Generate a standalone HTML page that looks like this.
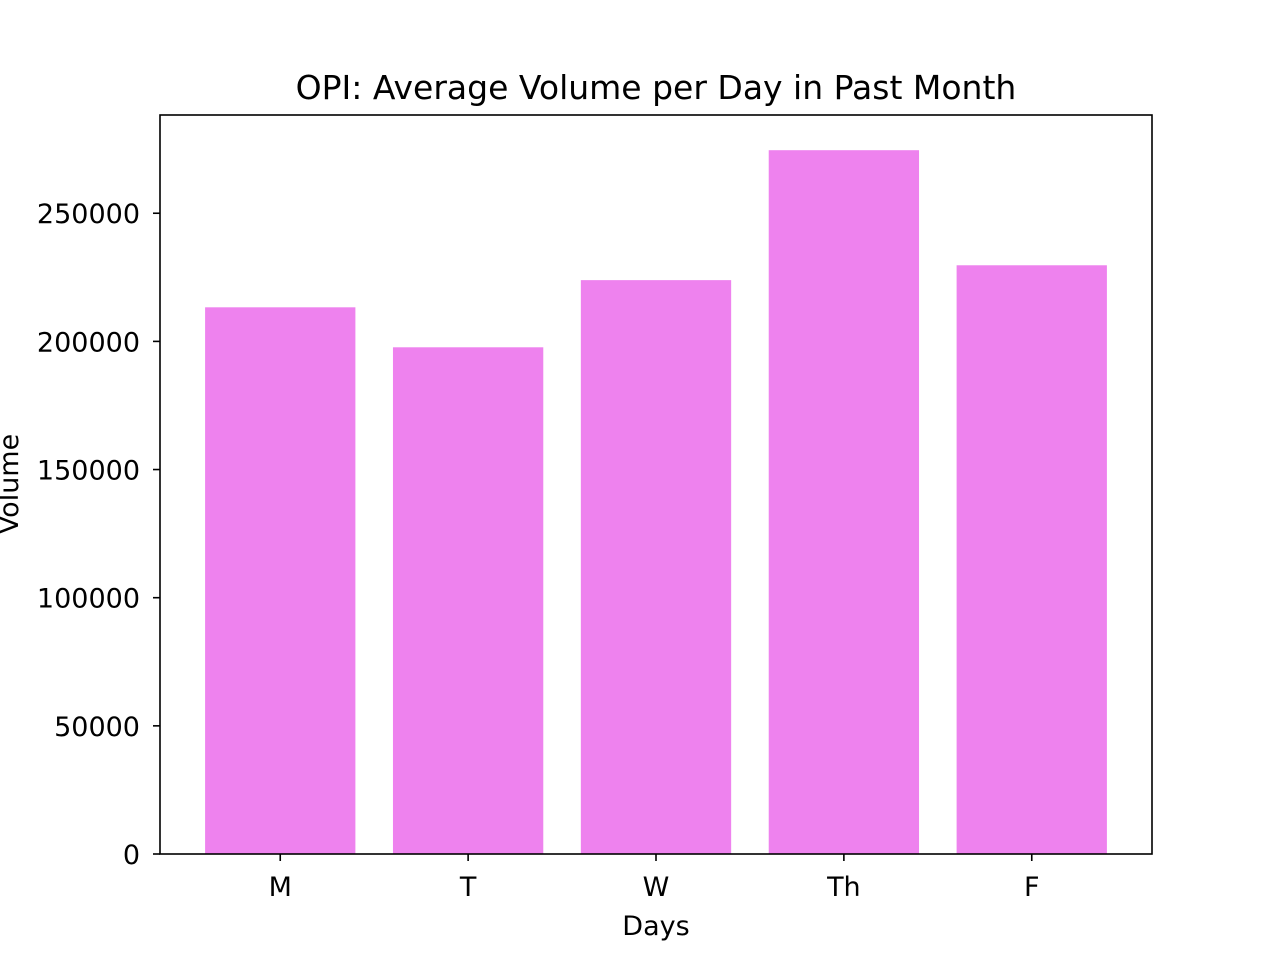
<!DOCTYPE html>
<html><head><meta charset="utf-8"><style>
html,body{margin:0;padding:0;background:#fff;}
svg text{font-family:"DejaVu Sans","Liberation Sans",sans-serif;fill:#000;}
</style></head><body>
<svg id="chart" width="1280" height="960" xmlns="http://www.w3.org/2000/svg">
<rect width="1280" height="960" fill="#fff"/>
<text x="656" y="99" font-size="33" text-anchor="middle">OPI: Average Volume per Day in Past Month</text>
<g id="bars"></g>
<g id="axes"></g>
<rect x="160" y="115" width="992" height="739" fill="none" stroke="#000" stroke-width="1.6"/>
<text x="656" y="935" font-size="27" text-anchor="middle">Days</text>
<text transform="translate(18,484) rotate(-90)" font-size="27" text-anchor="middle">Volume</text>
</svg>
<script>
const categories = ["M","T","W","Th","F"];
const volumes = [213300, 197700, 223900, 274600, 229700];
const yTicks = [0, 50000, 100000, 150000, 200000, 250000];

const NS = "http://www.w3.org/2000/svg";
const L=160,R=1152,T=115,B=854;
const yMax = Math.max(...volumes)*1.05;
const xMin = -0.64, xMax = categories.length - 1 + 0.64;
const y = v => B - v/yMax*(B-T);
const x = i => L + (i - xMin)/(xMax - xMin)*(R-L);
const bw = 0.8*(R-L)/(xMax-xMin);
const bars = document.getElementById("bars");
const axes = document.getElementById("axes");
function mk(tag, attrs, parent){const e=document.createElementNS(NS,tag);for(const k in attrs)e.setAttribute(k,attrs[k]);parent.appendChild(e);return e;}
volumes.forEach((v,i)=>{
  const r = mk("rect",{x:x(i)-bw/2,y:y(v),width:bw,height:B-y(v),fill:"#ee82ee"},bars);
  
  
});
categories.forEach((c,i)=>{
  const t = mk("line",{x1:x(i),x2:x(i),y1:B,y2:B+7,stroke:"#000","stroke-width":1.6},axes);
  
  
  const lb = mk("text",{x:x(i),y:B+42,"font-size":27,"text-anchor":"middle"},axes);
  lb.textContent = c;
  
  
});
yTicks.forEach(v=>{
  const t = mk("line",{x1:L-7,x2:L,y1:y(v),y2:y(v),stroke:"#000","stroke-width":1.6},axes);
  
  
  const lb = mk("text",{x:L-20,y:y(v)+10,"font-size":27,"text-anchor":"end"},axes);
  lb.textContent = String(v);
  
  
});
</script>
</body></html>
